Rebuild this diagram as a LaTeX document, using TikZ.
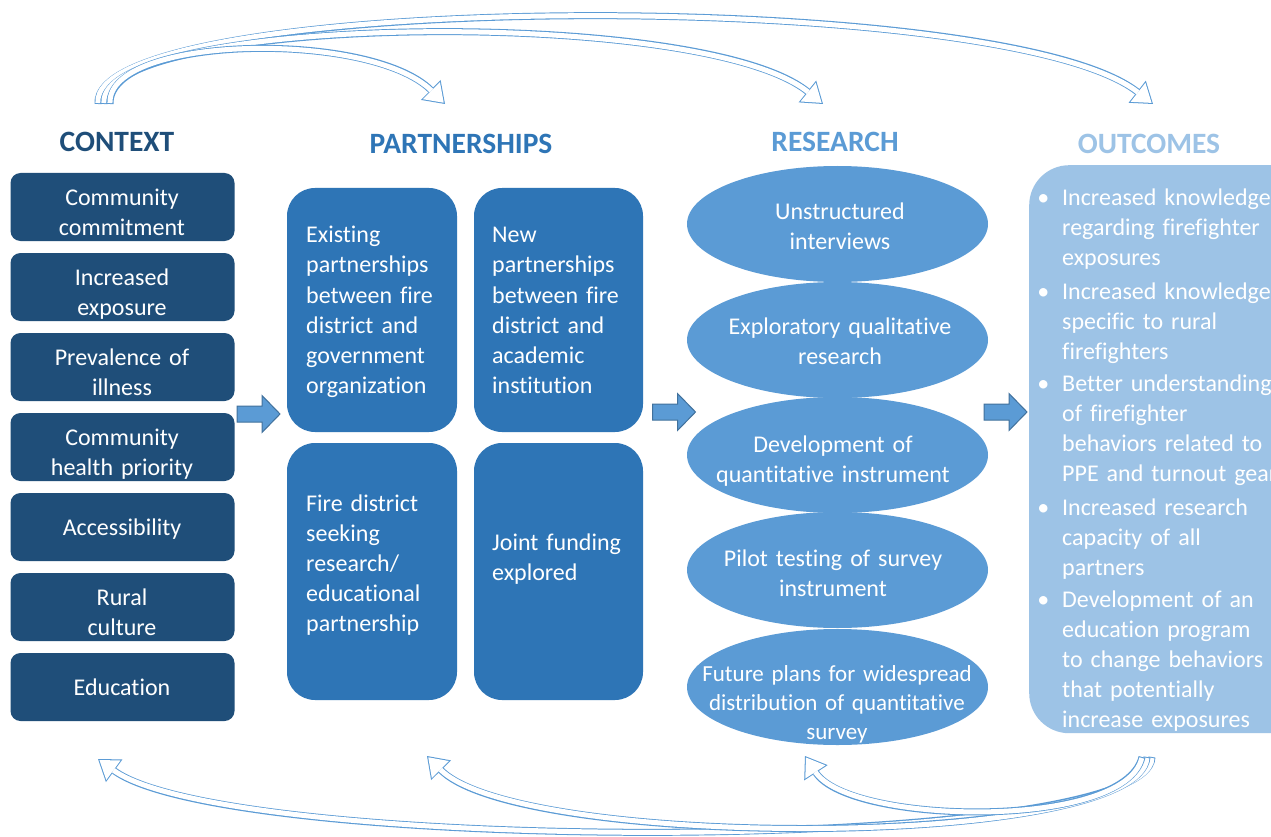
\documentclass[tikz,border=0pt]{standalone}
\usepackage{fontspec}
\setmainfont{Carlito}[Ligatures=NoCommon]
\usetikzlibrary{shapes.geometric,arrows.meta}

\definecolor{ctxblue}{HTML}{1F4E79}
\definecolor{partblue}{HTML}{2E75B6}
\definecolor{resblue}{HTML}{5B9BD5}
\definecolor{outblue}{HTML}{9DC3E6}
\definecolor{arrowedge}{HTML}{41719C}

\newcommand{\bodysize}{\fontsize{24}{30.2}\selectfont}
\newcommand{\smallbody}{\fontsize{23}{29}\selectfont}
\newcommand{\titlesize}{\fontsize{29.5}{34}\selectfont\bfseries}
% outlined curved feedback arrow: blue outline, white core
\newcommand{\swoosh}[1]{\draw[swouter] #1; \draw[swinner] #1;}
% straight block arrow between columns, centred at (#1,#2)
\newcommand{\blockarrow}[2]{%
  \draw[barrow] (#1-21.5,#2-8) -- (#1+3.5,#2-8) -- (#1+3.5,#2-18.5) -- (#1+21.5,#2)
    -- (#1+3.5,#2+18.5) -- (#1+3.5,#2+8) -- (#1-21.5,#2+8) -- cycle;}

\begin{document}
\begin{tikzpicture}[x=1pt,y=-1pt,
  title/.style={anchor=base, inner sep=0pt, font=\titlesize},
  ctxbox/.style={rectangle, rounded corners=10pt, fill=ctxblue, minimum width=224pt,
    minimum height=68pt, inner sep=0pt},
  ctxtext/.style={anchor=base, text width=220pt, align=center, inner sep=0pt,
    text=white, font=\bodysize},
  partbox/.style={rectangle, rounded corners=28pt, fill=partblue, minimum width=170pt,
    inner sep=0pt},
  parttext/.style={anchor=base west, text width=150pt, align=left, inner sep=0pt,
    text=white, font=\bodysize},
  resell/.style={ellipse, fill=resblue, minimum width=301pt, minimum height=116pt,
    inner sep=0pt},
  restext/.style={anchor=base, text width=290pt, align=center, inner sep=0pt,
    text=white, font=\bodysize},
  outtext/.style={anchor=base west, text width=240pt, align=left, inner sep=0pt,
    text=white, font=\bodysize},
  barrow/.style={fill=resblue, draw=arrowedge, line width=1pt, line join=miter},
  swouter/.style={draw=resblue, line width=7pt,
    -{Triangle[length=20pt,width=28pt,line width=0pt]}},
  swinner/.style={draw=white, line width=5pt, shorten >=1.8pt, shorten <=1pt,
    -{Triangle[length=17.2pt,width=24.1pt,line width=0pt]}},
]
\useasboundingbox (0,0) rectangle (1271,837);
\fill[white] (0,0) rectangle (1271,837);
\clip (0,0) rectangle (1271,837);

% ---------- column titles ----------
\node[title, text=ctxblue]  (tctx)  at (117,152) {CONTEXT};
\node[title, text=partblue] (tpart) at (461,154) {PARTNERSHIPS};
\node[title, text=resblue]  (tres)  at (835,152) {RESEARCH};
\node[title, text=outblue]  (tout)  at (1149,154) {OUTCOMES};

% ---------- context ----------
\node[ctxbox] (c1) at (122.5,207) {};
\node[ctxbox] (c2) at (122.5,287) {};
\node[ctxbox] (c3) at (122.5,367) {};
\node[ctxbox] (c4) at (122.5,447) {};
\node[ctxbox] (c5) at (122.5,527) {};
\node[ctxbox] (c6) at (122.5,607) {};
\node[ctxbox] (c7) at (122.5,687) {};
\node[ctxtext] (c1t) at (122,205) {Community\\commitment};
\node[ctxtext] (c2t) at (122,285) {Increased\\exposure};
\node[ctxtext] (c3t) at (122,365) {Prevalence of\\illness};
\node[ctxtext] (c4t) at (122,445) {Community\\health priority};
\node[ctxtext] (c5t) at (122,535) {Accessibility};
\node[ctxtext] (c6t) at (122,605) {Rural\\culture};
\node[ctxtext] (c7t) at (122,695) {Education};

% ---------- partnerships ----------
\node[partbox, minimum height=244pt] (p1) at (372,310) {};
\node[partbox, minimum height=244pt, minimum width=169pt] (p2) at (558.5,310) {};
\node[partbox, minimum height=257pt] (p3) at (372,571.5) {};
\node[partbox, minimum height=257pt, minimum width=169pt] (p4) at (558.5,571.5) {};
\node[parttext] (p1t) at (306,242.7)
  {Existing\\partnerships\\between fire\\district and\\government\\organization};
\node[parttext] (p2t) at (492,242.7)
  {New\\partnerships\\between fire\\district and\\academic\\institution};
\node[parttext] (p3t) at (306,511)
  {Fire district\\seeking\\research/\\educational\\partnership};
\node[parttext] (p4t) at (492,550) {Joint funding\\explored};

% ---------- research ----------
\node[resell] (r1) at (837.5,224) {};
\node[resell] (r2) at (837.5,340) {};
\node[resell] (r3) at (837.5,455) {};
\node[resell] (r4) at (837.5,570) {};
\node[resell] (r5) at (837.5,687) {};
\node[restext] (r1t) at (840,219) {Unstructured\\interviews};
\node[restext] (r2t) at (840,334) {Exploratory qualitative\\research};
\node[restext] (r3t) at (833,452) {Development of\\quantitative instrument};
\node[restext] (r4t) at (833,566) {Pilot testing of survey\\instrument};
\node[restext, font=\smallbody] (r5t) at (837,681)
  {Future plans for widespread\\distribution of quantitative\\survey};

% ---------- outcomes ----------
\node[rectangle, rounded corners=40pt, fill=outblue, minimum width=290pt,
  minimum height=568pt, inner sep=0pt, anchor=north west] (obox) at (1029,165) {};
\newcommand{\bul}{\llap{\textbullet\hspace{13pt}}}
\node[outtext] (o1) at (1062,205)
  {\bul Increased knowledge\\regarding firefighter\\exposures};
\node[outtext] (o2) at (1062,299)
  {\bul Increased knowledge\\specific to rural\\firefighters};
\node[outtext] (o3) at (1062,391)
  {\bul Better understanding\\of firefighter\\behaviors related to\\PPE and turnout gear};
\node[outtext] (o4) at (1062,515)
  {\bul Increased research\\capacity of all\\partners};
\node[outtext] (o5) at (1062,607)
  {\bul Development of an\\education program\\to change behaviors\\that potentially\\increase exposures};

% ---------- block arrows between columns ----------
\blockarrow{258.5}{414}
\blockarrow{674}{412}
\blockarrow{1005.5}{412}

% ---------- feedback arrows over the top ----------
\coordinate (t1s) at (110,104); \coordinate (t1e) at (445,104);
\coordinate (t2s) at (104,104); \coordinate (t2e) at (823,104);
\coordinate (t3s) at (98,104);  \coordinate (t3e) at (1153,104);
\swoosh{(t3s) .. controls (90,-8) and (1000,-15) .. (t3e)}
\swoosh{(t2s) .. controls (98,15) and (700,5) .. (t2e)}
\swoosh{(t1s) .. controls (108,35) and (370,30) .. (t1e)}

% ---------- feedback arrows along the bottom ----------
\coordinate (b1s) at (1152,757); \coordinate (b1e) at (98,759);
\coordinate (b2s) at (1147,757); \coordinate (b2e) at (427,756);
\coordinate (b3s) at (1142,757); \coordinate (b3e) at (805,756);
\swoosh{(b1s) .. controls (1150,855) and (230,855) .. (b1e)}
\swoosh{(b2s) .. controls (1140,850) and (520,850) .. (b2e)}
\swoosh{(b3s) .. controls (1125,830) and (850,825) .. (b3e)}
\end{tikzpicture}
\end{document}
